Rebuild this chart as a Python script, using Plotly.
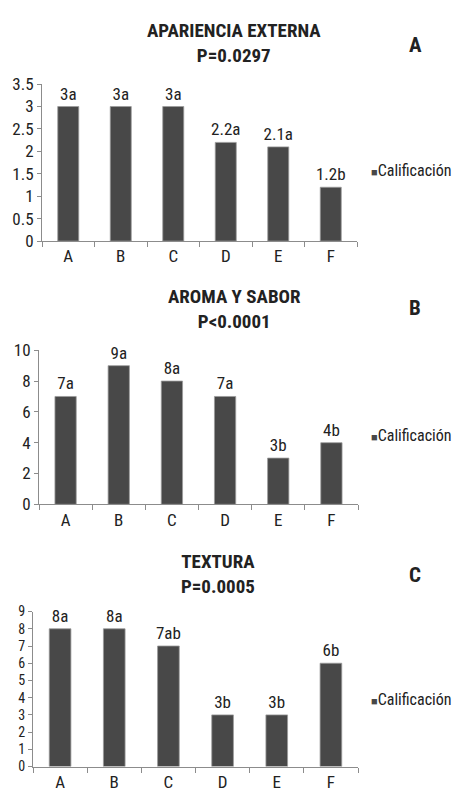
import plotly.graph_objects as go

categories = ["A", "B", "C", "D", "E", "F"]
vals_a = [3, 3, 3, 2.2, 2.1, 1.2]
labels_a = ["3a", "3a", "3a", "2.2a", "2.1a", "1.2b"]
vals_b = [7, 9, 8, 7, 3, 4]
labels_b = ["7a", "9a", "8a", "7a", "3b", "4b"]
vals_c = [8, 8, 7, 3, 3, 6]
labels_c = ["8a", "8a", "7ab", "3b", "3b", "6b"]
titles = ["APARIENCIA EXTERNA<br>P=0.0297", "AROMA Y SABOR<br>P<0.0001", "TEXTURA<br>P=0.0005"]
panel_letters = ["A", "B", "C"]
series_name = "Calificación"

W, H = 453, 799
FONT = "Liberation Sans Narrow, Arial Narrow, Roboto Condensed, Liberation Sans, sans-serif"
BAR = "#484848"
AX = "#8c8c8c"

def px_x(p):
    return p / W

def px_y(p):
    return 1 - p / H

panels = [
    dict(vals=vals_a, labels=labels_a, x0=42, x1=357, ytop=76, ybot=237, rng=[0, 3.5], dtick=0.5,
         title_x=234, title_y=34, letter_y=36, leg_y=165, tfs=17),
    dict(vals=vals_b, labels=labels_b, x0=39, x1=358, ytop=349, ybot=507, rng=[0, 10], dtick=2,
         title_x=234, title_y=307, letter_y=306, leg_y=436, tfs=17),
    dict(vals=vals_c, labels=labels_c, x0=33, x1=358, ytop=617, ybot=776, rng=[0, 9], dtick=1,
         title_x=218, title_y=578, letter_y=580, leg_y=707, tfs=14),
]

fig = go.Figure()
annotations = []
for i, p in enumerate(panels):
    n = "" if i == 0 else str(i + 1)
    fig.add_trace(go.Bar(
        x=categories, y=p["vals"], text=p["labels"], textposition="outside",
        constraintext="none",
        textfont=dict(family=FONT, size=17, color="#222222"),
        marker=dict(color=BAR, line=dict(color="#9a9a9a", width=0.8)),
        cliponaxis=False, xaxis="x" + n, yaxis="y" + n, showlegend=False,
        name=series_name,
    ))
    fig.update_layout(**{
        "xaxis" + n: dict(
            domain=[px_x(p["x0"]), px_x(p["x1"])], anchor="y" + n,
            showline=True, linecolor=AX, linewidth=1, ticks="outside", tickson="boundaries",
            ticklen=5, tickcolor=AX, showgrid=False, zeroline=False,
            tickfont=dict(family=FONT, size=17, color="#222222"),
        ),
        "yaxis" + n: dict(
            domain=[px_y(p["ybot"]), px_y(p["ytop"])], anchor="x" + n,
            range=p["rng"], dtick=p["dtick"], showline=True, linecolor=AX, linewidth=1,
            ticks="outside", ticklen=4, tickcolor=AX, showgrid=False, zeroline=False,
            tickfont=dict(family=FONT, size=p["tfs"], color="#222222"),
        ),
    })
    annotations.append(dict(
        text="<b>" + titles[i] + "</b>", x=px_x(p["title_x"]), y=px_y(p["title_y"]),
        xref="paper", yref="paper", showarrow=False, xanchor="center", yanchor="middle",
        font=dict(family=FONT, size=19, color="#222222"),
    ))
    annotations.append(dict(
        text="<b>" + panel_letters[i] + "</b>", x=px_x(415), y=px_y(p["letter_y"]),
        xref="paper", yref="paper", showarrow=False, xanchor="center", yanchor="middle",
        font=dict(family=FONT, size=21, color="#222222"),
    ))
    annotations.append(dict(
        text="<span style='font-size:11px;color:" + BAR + "'>■</span>" + series_name,
        x=1.0, y=px_y(p["leg_y"]),
        xref="paper", yref="paper", showarrow=False, xanchor="right", yanchor="middle",
        font=dict(family=FONT, size=16, color="#222222"),
    ))

fig.update_layout(
    width=W, height=H, margin=dict(l=0, r=0, t=0, b=0),
    paper_bgcolor="white", plot_bgcolor="white",
    bargap=0.6, annotations=annotations,
    font=dict(family=FONT),
)
fig.write_html("out.html", config={"displayModeBar": False},
               post_script="document.body.style.margin='0';document.body.style.overflow='hidden';")
